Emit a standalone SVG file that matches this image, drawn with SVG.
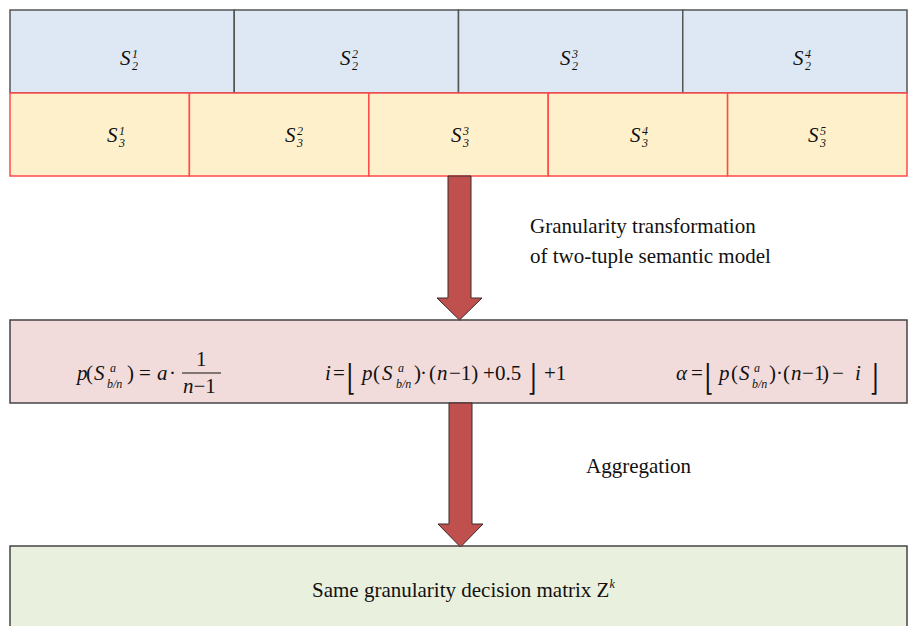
<svg xmlns="http://www.w3.org/2000/svg" width="908" height="626" viewBox="0 0 908 626">
<style>
text{font-family:"Liberation Serif","DejaVu Serif",serif;fill:#111}
.lbl{font-size:21px}
.it{font-style:italic}
.m{font-size:21px}
.s{font-size:12px;font-style:italic}
.ss{font-size:12px}
.blue{fill:#DDE8F4;stroke:#555;stroke-width:1.5}
.yel{fill:#FFF0CC;stroke:#FF4A4A;stroke-width:1.5}
.pink{fill:#F2DCDB;stroke:#444;stroke-width:1.5}
.green{fill:#EAF0DE;stroke:#444;stroke-width:1.5}
.arrow{fill:#C0504D;stroke:#3A2A2A;stroke-width:1}
</style>
<rect width="908" height="626" fill="#fff"/>
<g id="top-row">
<g id="s2-1"><rect class="blue" x="10" y="10" width="224.25" height="83"/><text class="m it"><tspan x="120" y="65">S</tspan><tspan class="ss" x="132" y="58">1</tspan><tspan class="ss" x="132" y="70">2</tspan></text></g>
<g id="s2-2"><rect class="blue" x="234.25" y="10" width="224.25" height="83"/><text class="m it"><tspan x="340" y="65">S</tspan><tspan class="ss" x="352" y="58">2</tspan><tspan class="ss" x="352" y="70">2</tspan></text></g>
<g id="s2-3"><rect class="blue" x="458.5" y="10" width="224.25" height="83"/><text class="m it"><tspan x="560" y="65">S</tspan><tspan class="ss" x="572" y="58">3</tspan><tspan class="ss" x="572" y="70">2</tspan></text></g>
<g id="s2-4"><rect class="blue" x="682.75" y="10" width="224.25" height="83"/><text class="m it"><tspan x="793" y="65">S</tspan><tspan class="ss" x="805" y="58">4</tspan><tspan class="ss" x="805" y="70">2</tspan></text></g>
</g>
<g id="second-row">
<g id="s3-1"><rect class="yel" x="10" y="93" width="179.4" height="83"/><text class="m it"><tspan x="107" y="142">S</tspan><tspan class="ss" x="119" y="135">1</tspan><tspan class="ss" x="119" y="147">3</tspan></text></g>
<g id="s3-2"><rect class="yel" x="189.4" y="93" width="179.4" height="83"/><text class="m it"><tspan x="285" y="142">S</tspan><tspan class="ss" x="297" y="135">2</tspan><tspan class="ss" x="297" y="147">3</tspan></text></g>
<g id="s3-3"><rect class="yel" x="368.8" y="93" width="179.4" height="83"/><text class="m it"><tspan x="451" y="142">S</tspan><tspan class="ss" x="463" y="135">3</tspan><tspan class="ss" x="463" y="147">3</tspan></text></g>
<g id="s3-4"><rect class="yel" x="548.2" y="93" width="179.4" height="83"/><text class="m it"><tspan x="630" y="142">S</tspan><tspan class="ss" x="642" y="135">4</tspan><tspan class="ss" x="642" y="147">3</tspan></text></g>
<g id="s3-5"><rect class="yel" x="727.6" y="93" width="179.4" height="83"/><text class="m it"><tspan x="808" y="142">S</tspan><tspan class="ss" x="820" y="135">5</tspan><tspan class="ss" x="820" y="147">3</tspan></text></g>
</g>
<g id="formula-box">
<rect class="pink" x="10" y="320" width="897" height="83"/>
<g id="f1">
<text class="m"><tspan x="77" y="380" class="it">p</tspan><tspan x="86" y="380">(</tspan><tspan x="94" y="380" class="it">S</tspan><tspan class="s" x="110" y="372">a</tspan><tspan class="s" x="107" y="388">b/n</tspan><tspan x="127" y="380">)</tspan><tspan x="139" y="380">=</tspan><tspan x="157" y="380" class="it">a</tspan><tspan x="169" y="380">·</tspan><tspan x="196" y="366">1</tspan><tspan x="183" y="393" class="it">n</tspan><tspan y="393">−1</tspan></text>
<line x1="182" y1="373" x2="221" y2="373" stroke="#111" stroke-width="1.2"/>
</g>
<g id="f2">
<text class="m"><tspan x="325" y="380" class="it">i</tspan><tspan x="333" y="380">=</tspan><tspan x="362" y="380" class="it">p</tspan><tspan x="373" y="380">(</tspan><tspan x="382" y="380" class="it">S</tspan><tspan class="s" x="398" y="372">a</tspan><tspan class="s" x="396" y="388">b/n</tspan><tspan x="414" y="380">)</tspan><tspan x="420" y="380">·</tspan><tspan x="429" y="380">(</tspan><tspan x="437" y="380" class="it">n</tspan><tspan x="449" y="380">−1)</tspan><tspan x="483" y="380">+</tspan><tspan x="495" y="380">0.5</tspan><tspan x="544" y="380">+1</tspan></text>
<text class="m" transform="translate(347 390) scale(1 1.7)">⌊</text>
<text class="m" transform="translate(528 390) scale(1 1.7)">⌋</text>
</g>
<g id="f3">
<text class="m"><tspan x="676" y="380" class="it">α</tspan><tspan x="691" y="380">=</tspan><tspan x="719" y="380" class="it">p</tspan><tspan x="731" y="380">(</tspan><tspan x="739" y="380" class="it">S</tspan><tspan class="s" x="754" y="372">a</tspan><tspan class="s" x="752" y="388">b/n</tspan><tspan x="769" y="380">)</tspan><tspan x="776" y="380">·</tspan><tspan x="783" y="380">(</tspan><tspan x="791" y="380" class="it">n</tspan><tspan x="802" y="380">−</tspan><tspan x="814" y="380">1</tspan><tspan x="822" y="380">)</tspan><tspan x="832" y="380">−</tspan><tspan x="855" y="380" class="it">i</tspan></text>
<text class="m" transform="translate(705 390) scale(1 1.7)">⌊</text>
<text class="m" transform="translate(870 390) scale(1 1.7)">⌋</text>
</g>
</g>
<g id="result-box">
<rect class="green" x="10" y="546" width="897" height="100"/>
<text class="lbl" x="312" y="597">Same granularity decision matrix Z<tspan class="it" font-size="12" dy="-9">k</tspan></text>
</g>
<g id="connectors">
<g id="arrow-transform"><polygon class="arrow" points="448,176 471,176 471,298 482,298 459.5,320 437,298 448,298"/></g>
<g id="arrow-aggregate"><polygon class="arrow" points="449,403 472,403 472,524 483,524 460.5,547 438,524 449,524"/></g>
</g>
<g id="labels">
<text class="lbl" x="530" y="233">Granularity transformation</text>
<text class="lbl" x="530" y="263">of two-tuple semantic model</text>
<text class="lbl" x="586" y="473">Aggregation</text>
</g>
</svg>
